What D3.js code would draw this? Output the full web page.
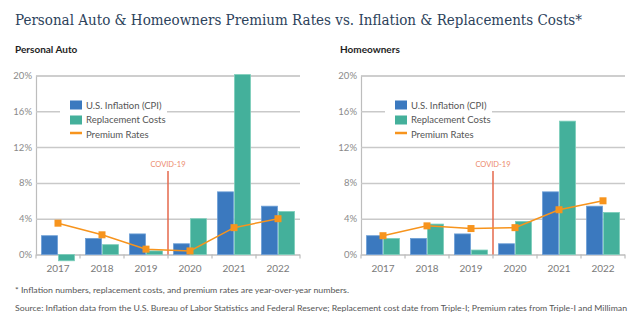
<!DOCTYPE html>
<html>
<head>
<meta charset="utf-8">
<script src="https://cdnjs.cloudflare.com/ajax/libs/d3/7.8.5/d3.min.js"></script>
<style>
  body { margin: 0; background: #fff; }
  svg { display: block; font-family: Lato, "Open Sans", sans-serif; }
</style>
</head>
<body>
<div class="canvas"></div>
<script>
/**
 * Data
 */
const years = ["2017", "2018", "2019", "2020", "2021", "2022"]
const yTicks = [0, 4, 8, 12, 16, 20]

const autoInflation = [2.1, 1.8, 2.3, 1.2, 7.0, 5.4]
const autoReplacement = [-0.7, 1.1, 0.4, 4.0, 20.1, 4.8]
const autoPremium = [3.5, 2.2, 0.6, 0.4, 3.0, 4.0]

const homeInflation = [2.1, 1.8, 2.3, 1.2, 7.0, 5.4]
const homeReplacement = [1.8, 3.4, 0.5, 3.7, 14.9, 4.7]
const homePremium = [2.1, 3.2, 2.9, 3.0, 5.0, 6.0]

const legendLabels = ["U.S. Inflation (CPI)", "Replacement Costs", "Premium Rates"]
const covidAfter = "2019" // marker sits between this year and the next

const colors = {cpi: "#3b79bf", rep: "#44b09b", prem: "#f7941d", covid: "#e5694d"}

/**
 * Canvas
 */
const width = 637
const height = 327

const svg = d3.select(".canvas")
    .append("svg")
    .attr("width", width)
    .attr("height", height)

// title
svg.append("text")
    .attr("x", 15)
    .attr("y", 25)
    .attr("font-family", "'DejaVu Serif Condensed', 'DejaVu Serif', serif")
    .attr("font-size", 14)
    .attr("fill", "#2c425b")
    .attr("textLength", 567)
    .attr("lengthAdjust", "spacingAndGlyphs")
    .text("Personal Auto & Homeowners Premium Rates vs. Inflation & Replacements Costs*")

/**
 * Panel drawing
 */
const panelWidth = 264
const y = d3.scaleLinear().domain([0, 20]).range([254.5, 75.5])

const drawPanel = (left, name, inflation, replacement, premium) => {

    const g = svg.append("g")
        .attr("transform", `translate(${left},0)`)

    // subtitle
    g.append("text")
        .attr("x", -21)
        .attr("y", 53)
        .attr("font-size", 10)
        .attr("font-weight", "bold")
        .attr("fill", "#1e1e1e")
        .text(name)

    const x0 = d3.scaleBand()
        .domain(years)
        .range([0, panelWidth])
        .paddingInner(0.25)
        .paddingOuter(0.125)
    const x1 = d3.scaleBand()
        .domain(["cpi", "rep"])
        .range([0, x0.bandwidth()])
        .paddingInner(0.06)

    // gridlines
    const yAxis = d3.axisLeft(y)
        .tickValues(yTicks)
        .tickSize(-panelWidth)
        .tickPadding(4)
        .tickFormat(d => d + "%")
    const yAxisGroup = g.append("g").call(yAxis)
    yAxisGroup.select(".domain").attr("stroke", "#bdbdbd").attr("stroke-width", 1.2)
    yAxisGroup.selectAll(".tick line").attr("stroke", "#c9c9c9").attr("stroke-width", 1.5)
    yAxisGroup.selectAll(".tick text")
        .attr("font-size", 9.5)
        .attr("fill", "#8a8a8a")
        .attr("font-family", "Lato, sans-serif")

    // small ticks between the year groups
    const boundaries = years.map(d => x0(d) - x0.step() * 0.125).concat([panelWidth])
    g.selectAll(".sep")
        .data(boundaries)
        .enter()
        .append("line")
            .attr("x1", d => d)
            .attr("x2", d => d)
            .attr("y1", y(0))
            .attr("y2", y(0) + 4)
            .attr("stroke", "#bdbdbd")
            .attr("stroke-width", 1.2)

    // year labels
    const xAxis = d3.axisBottom(x0).tickSize(0).tickPadding(10)
    const xAxisGroup = g.append("g")
        .attr("transform", `translate(0, ${y(0)})`)
        .call(xAxis)
    xAxisGroup.select(".domain").remove()
    xAxisGroup.selectAll("text")
        .attr("font-size", 10)
        .attr("fill", "#7a7a7a")
        .attr("font-family", "Lato, sans-serif")

    // legend (white box knocks out the 16% gridline)
    const legend = g.append("g")
    legend.append("rect")
        .attr("x", 24).attr("y", 96)
        .attr("width", 107).attr("height", 44)
        .attr("fill", "#fff")
    legend.append("rect")
        .attr("x", 34).attr("y", 100.5)
        .attr("width", 12).attr("height", 9)
        .attr("fill", colors.cpi)
    legend.append("rect")
        .attr("x", 34).attr("y", 115.5)
        .attr("width", 12).attr("height", 9)
        .attr("fill", colors.rep)
    legend.append("line")
        .attr("x1", 34).attr("x2", 46)
        .attr("y1", 133).attr("y2", 133)
        .attr("stroke", colors.prem)
        .attr("stroke-width", 2.5)
    legend.selectAll(".leg-text")
        .data(legendLabels)
        .enter()
        .append("text")
            .attr("x", 50)
            .attr("y", (d, i) => 108.5 + i * 14.5)
            .attr("font-size", 9.5)
            .attr("fill", "#555")
            .text(d => d)

    // bars
    const groups = g.selectAll(".year")
        .data(years.map((d, i) => ({year: d, cpi: inflation[i], rep: replacement[i]})))
        .enter()
        .append("g")
            .attr("transform", d => `translate(${x0(d.year)},0)`)

    groups.selectAll("rect")
        .data(d => ["cpi", "rep"].map(k => ({key: k, value: d[k]})))
        .enter()
        .append("rect")
            .attr("x", d => x1(d.key))
            .attr("width", x1.bandwidth())
            .attr("y", d => y(Math.max(0, d.value)))
            .attr("height", d => Math.abs(y(d.value) - y(0)))
            .attr("fill", d => colors[d.key])
            .attr("stroke", d => d.key == "cpi" ? "#6d9fd6" : "#7cceba")
            .attr("stroke-width", 0.8)

    // covid marker
    const cx = x0(covidAfter) + x0.bandwidth() + x0.step() * 0.125
    g.append("line")
        .attr("x1", cx).attr("x2", cx)
        .attr("y1", 171).attr("y2", y(0))
        .attr("stroke", colors.covid)
        .attr("stroke-width", 1.5)
    g.append("text")
        .attr("x", cx)
        .attr("y", 166.5)
        .attr("text-anchor", "middle")
        .attr("font-size", 7.5)
        .attr("fill", "#ec8a6c")
        .text("COVID-19")

    // premium rates line
    const center = d => x0(d) + x0.bandwidth() / 2
    const line = d3.line()
        .x((d, i) => center(years[i]))
        .y(d => y(d))

    g.append("path")
        .datum(premium)
        .attr("fill", "none")
        .attr("stroke", colors.prem)
        .attr("stroke-width", 1.5)
        .attr("d", line)

    g.selectAll(".marker")
        .data(premium)
        .enter()
        .append("rect")
            .attr("x", (d, i) => center(years[i]) - 3.5)
            .attr("y", d => y(d) - 3.5)
            .attr("width", 7)
            .attr("height", 7)
            .attr("fill", colors.prem)
}

drawPanel(36, "Personal Auto", autoInflation, autoReplacement, autoPremium)
drawPanel(361, "Homeowners", homeInflation, homeReplacement, homePremium)

/**
 * Footnotes
 */
svg.append("text")
    .attr("x", 15)
    .attr("y", 293)
    .attr("font-size", 8)
    .attr("fill", "#555")
    .attr("textLength", 334)
    .attr("lengthAdjust", "spacingAndGlyphs")
    .text("* Inflation numbers, replacement costs, and premium rates are year-over-year numbers.")

svg.append("text")
    .attr("x", 15)
    .attr("y", 311)
    .attr("font-size", 8)
    .attr("fill", "#555")
    .attr("textLength", 612)
    .attr("lengthAdjust", "spacingAndGlyphs")
    .text("Source: Inflation data from the U.S. Bureau of Labor Statistics and Federal Reserve; Replacement cost date from Triple-I; Premium rates from Triple-I and Milliman")
</script>
</body>
</html>
